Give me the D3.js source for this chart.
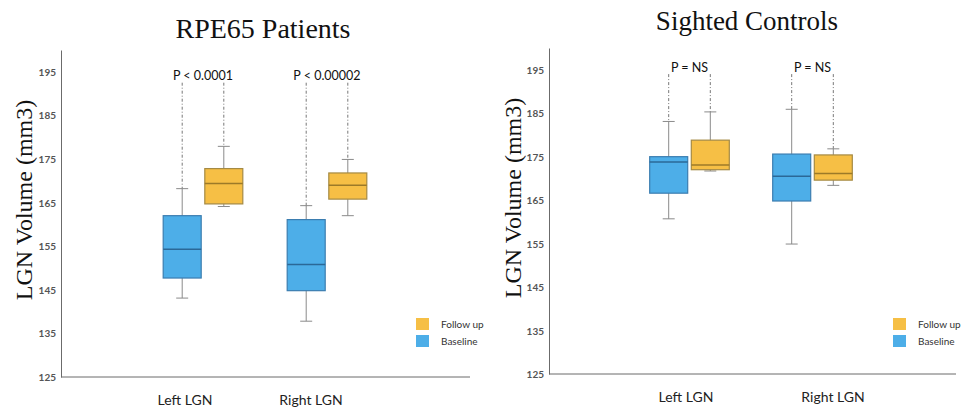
<!DOCTYPE html>
<head>
<meta charset="utf-8">
<style>
    body { margin: 0; background: #fff; }
    text { font-family: Lato, "Open Sans", sans-serif; }
    .title, .ylab { font-family: "Liberation Serif", "DejaVu Serif", serif; fill: #111; }
</style>
</head>
<body>
    <script src="https://d3js.org/d3.v7.min.js"></script>
    <script>

    ///////////////////////////
    ////////// DATA ///////////
    ///////////////////////////

    const categories = ['Left LGN', 'Right LGN'];
    const series = ['Baseline', 'Follow up'];
    const yTicks = [125, 135, 145, 155, 165, 175, 185, 195];
    const titles = ['RPE65 Patients', 'Sighted Controls'];

    // [min, q1, median, q3, max] per category
    const rpeBaseline = [[143.1, 147.7, 154.3, 162.0, 168.2], [137.8, 144.8, 150.8, 161.1, 164.3]];
    const rpeFollow = [[164.1, 164.7, 169.4, 172.8, 177.9], [162.0, 165.8, 169.0, 171.8, 174.9]];
    const ctrlBaseline = [[160.7, 166.6, 173.8, 175.0, 183.1], [154.9, 164.8, 170.5, 175.6, 185.9]];
    const ctrlFollow = [[171.7, 172.0, 173.1, 178.8, 185.3], [168.4, 169.6, 171.1, 175.4, 176.8]];
    const rpeP = ['P < 0.0001', 'P < 0.00002'];
    const ctrlP = ['P = NS', 'P = NS'];

    ///////////////////////////
    ////////// SETUP //////////
    ///////////////////////////

    const colors = {
        'Baseline': { fill: '#4daee8', stroke: '#3b7db0', med: '#2b6897' },
        'Follow up': { fill: '#f6bf45', stroke: '#a58a44', med: '#9c7a28' }
    };

    const panels = [
        { title: titles[0], data: [rpeBaseline, rpeFollow], p: rpeP, bracket: 192.5,
          x0: 61, x1: 470, yTop: 50, yBottom: 377, groups: [203, 327], labels: [185, 311], labelY: 405,
          titleX: 263, titleY: 38, titleSize: 28, ylabX: 32, ylabY: 200, legendX: 416, pOff: 3 },
        { title: titles[1], data: [ctrlBaseline, ctrlFollow], p: ctrlP, bracket: 194,
          x0: 549, x1: 956, yTop: 48, yBottom: 374, groups: [689.5, 812.5], labels: [686, 833], labelY: 402,
          titleX: 747, titleY: 30, titleSize: 27, ylabX: 521, ylabY: 198, legendX: 893, pOff: 2.5 }
    ];

    const svg = d3.select('body').append('svg')
        .attr('width', 962)
        .attr('height', 410);

    //////////////////////////
    ////////// DRAW //////////
    //////////////////////////

    panels.forEach(function(pn) {
        const g = svg.append('g');

        const y = d3.scaleLinear().domain([125, 200]).range([pn.yBottom, pn.yTop]);
        const x = d3.scalePoint().domain(categories).range(pn.groups);
        const xs = d3.scalePoint().domain(series).range([-20.8, 20.8]);
        const xl = d3.scalePoint().domain(categories).range(pn.labels);
        const boxW = 38;

        // title
        g.append('text').attr('class', 'title')
            .attr('x', pn.titleX).attr('y', pn.titleY)
            .attr('text-anchor', 'middle')
            .style('font-size', pn.titleSize + 'px')
            .text(pn.title);

        // y label
        g.append('text').attr('class', 'ylab')
            .attr('transform', 'translate(' + pn.ylabX + ',' + pn.ylabY + ') rotate(-90)')
            .attr('text-anchor', 'middle')
            .style('font-size', '24px')
            .text('LGN Volume (mm3)');

        // y axis
        const ax = g.append('g')
            .attr('transform', 'translate(' + pn.x0 + ',0)')
            .call(d3.axisLeft(y).tickValues(yTicks).tickSize(0).tickPadding(5).tickFormat(d3.format('d')));
        ax.select('.domain').attr('stroke', '#6b6b6b');
        ax.selectAll('text')
            .style('font-size', '10px').style('font-weight', 'bold')
            .attr('fill', '#555').attr('dy', '0.35em');

        // x axis line
        g.append('line')
            .attr('x1', pn.x0).attr('x2', pn.x1)
            .attr('y1', pn.yBottom).attr('y2', pn.yBottom)
            .attr('stroke', '#6b6b6b');

        // category labels
        g.selectAll('.cat').data(categories).enter().append('text')
            .attr('x', d => xl(d)).attr('y', pn.labelY)
            .attr('text-anchor', 'middle')
            .style('font-size', '14px').attr('fill', '#222')
            .text(d => d);

        // boxes
        series.forEach(function(s, si) {
            const c = colors[s];
            pn.data[si].forEach(function(v, ci) {
                const cx = x(categories[ci]) + xs(s);
                const bg = g.append('g');
                // dashed connector to p label
                bg.append('line')
                    .attr('x1', cx).attr('x2', cx)
                    .attr('y1', y(pn.bracket)).attr('y2', y(v[4]))
                    .attr('stroke', '#777').attr('stroke-width', 1)
                    .attr('stroke-dasharray', '3,2,1,2');
                // whiskers
                bg.append('line')
                    .attr('x1', cx).attr('x2', cx)
                    .attr('y1', y(v[4])).attr('y2', y(v[0]))
                    .attr('stroke', '#8a8a8a');
                [v[0], v[4]].forEach(function(w) {
                    bg.append('line')
                        .attr('x1', cx - 6).attr('x2', cx + 6)
                        .attr('y1', y(w)).attr('y2', y(w))
                        .attr('stroke', '#8a8a8a');
                });
                // box
                bg.append('rect')
                    .attr('x', cx - boxW / 2).attr('width', boxW)
                    .attr('y', y(v[3])).attr('height', y(v[1]) - y(v[3]))
                    .attr('fill', c.fill).attr('stroke', c.stroke).attr('stroke-width', 1.2);
                // median
                bg.append('line')
                    .attr('x1', cx - boxW / 2).attr('x2', cx + boxW / 2)
                    .attr('y1', y(v[2])).attr('y2', y(v[2]))
                    .attr('stroke', c.med).attr('stroke-width', 1.5);
            });
        });

        // p labels
        g.selectAll('.plab').data(pn.p).enter().append('text')
            .attr('x', (d, i) => x(categories[i]))
            .attr('y', y(pn.bracket) - pn.pOff)
            .attr('text-anchor', 'middle')
            .style('font-size', '12.5px').attr('fill', '#111')
            .text(d => d);

        // legend
        const leg = g.append('g');
        ['Follow up', 'Baseline'].forEach(function(s, i) {
            leg.append('rect')
                .attr('x', pn.legendX).attr('y', 318 + i * 17)
                .attr('width', 13).attr('height', 12)
                .attr('fill', colors[s].fill);
            leg.append('text')
                .attr('x', pn.legendX + 25).attr('y', 328 + i * 17)
                .style('font-size', '10px').attr('fill', '#333')
                .text(s);
        });
    });

    </script>
</body>
